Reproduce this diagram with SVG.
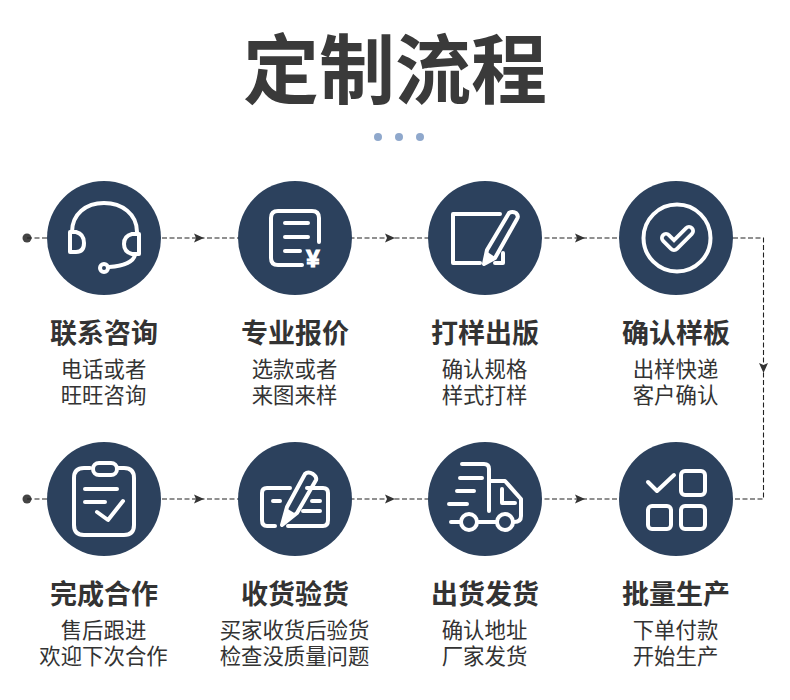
<svg xmlns="http://www.w3.org/2000/svg" width="790" height="700" viewBox="0 0 790 700">
<style>
text{font-family:"Noto Sans CJK SC","Liberation Sans",sans-serif;text-anchor:middle;fill:#333}
.t{font-size:76px;font-weight:700;fill:#3a3a3a}
.h{font-size:27px;font-weight:700}
.s{font-size:21.4px;font-weight:400}
.c{fill:#2c415d}
.i{fill:none;stroke:#fff;stroke-width:4;stroke-linecap:round;stroke-linejoin:round}
.w{fill:#fff}
.l{fill:none;stroke:#222;stroke-width:1.100;stroke-dasharray:5 2.5}
.d{fill:#444}
.b{fill:#8fa8cc}
</style>
<defs>
<path id="a" d="M-5 -4.500L5 0L-5 4.500L-3 0Z" fill="#333"/>
</defs>
<rect width="790" height="700" fill="#fff"/>
<g id="title">
<text class="t" x="395" y="98">定制流程</text>
<circle class="b" cx="378" cy="137" r="4"/><circle class="b" cx="399" cy="137" r="4"/><circle class="b" cx="420" cy="137" r="4"/>
</g>
<g id="connectors">
<circle class="d" cx="27" cy="238" r="4.500"/>
<circle class="d" cx="27" cy="499" r="4.500"/>
<path class="l" d="M27 238H733"/>
<path class="l" d="M733 238H763.500V499H733"/>
<path class="l" d="M27 499H733"/>
<use href="#a" x="199" y="238"/><use href="#a" x="390" y="238"/><use href="#a" x="580" y="238"/>
<use href="#a" x="199" y="499"/><use href="#a" x="390" y="499"/><use href="#a" x="580" y="499"/>
<use href="#a" transform="translate(763.500 368) rotate(90)"/>
</g>
<g id="n1">
<circle class="c" cx="104" cy="238" r="57"/>
<path class="i" d="M72 232C72 214 86 203 104 203C122 203 137 214 137 232"/>
<path class="i" d="M70 232H76Q84 234 84 243Q84 252 76 252H70Z"/>
<path class="i" d="M139 234H132Q124 236 124 244Q124 252 132 254H139Z"/>
<path class="i" d="M135 255C133 263 122 266 109 267"/>
<circle class="i" cx="104" cy="268" r="4"/>
<text class="h" x="104" y="343">联系咨询</text>
<text class="s"><tspan x="103.500" y="377">电话或者</tspan><tspan x="103.500" y="403">旺旺咨询</tspan></text>
</g>
<g id="n2">
<circle class="c" cx="295" cy="238" r="57"/>
<path class="i" d="M319 242V218Q319 211 312 211H278Q271 211 271 218V258Q271 265 278 265H302"/>
<path class="i" d="M285 223H308M285 237H308M285 251H300"/>
<text x="313" y="267" style="font-size:24px;font-weight:700;fill:#fff;stroke:#fff;stroke-width:1.200;font-family:'Liberation Sans',sans-serif">¥</text>
<text class="h" x="295" y="343">专业报价</text>
<text class="s"><tspan x="294.500" y="377">选款或者</tspan><tspan x="294.500" y="403">来图来样</tspan></text>
</g>
<g id="n3">
<circle class="c" cx="485" cy="238" r="57"/>
<path class="i" d="M500 214H453V263H480M503 253V263H495"/>
<path class="i" d="M484 264L487 250L509 213Q512 211 516 213Q519 216 517 219L495 258Z"/>
<path class="w" d="M483 266L486 251L495 257Z"/>
<text class="h" x="485" y="343">打样出版</text>
<text class="s"><tspan x="484.500" y="377">确认规格</tspan><tspan x="484.500" y="403">样式打样</tspan></text>
</g>
<g id="n4">
<circle class="c" cx="676" cy="238" r="57"/>
<circle class="i" cx="677" cy="238" r="33.500"/>
<path d="M666 238L674 246L689 231" fill="none" stroke="#fff" stroke-width="12" stroke-linecap="round" stroke-linejoin="round"/>
<path d="M666 238L674 246L689 231" fill="none" stroke="#2c415d" stroke-width="4.500" stroke-linecap="round" stroke-linejoin="round"/>
<text class="h" x="676" y="343">确认样板</text>
<text class="s"><tspan x="675.500" y="377">出样快递</tspan><tspan x="675.500" y="403">客户确认</tspan></text>
</g>
<g id="n5">
<circle class="c" cx="104" cy="499" r="57"/>
<path class="i" d="M90 468H84Q74 468 74 478V525Q74 535 84 535H124Q134 535 134 525V478Q134 468 124 468H118"/>
<rect class="i" x="93" y="463" width="24" height="12" rx="6"/>
<path class="i" d="M85 489H117M85 502H105"/>
<path class="i" d="M97 512L108 520L123 501"/>
<text class="h" x="104" y="604">完成合作</text>
<text class="s"><tspan x="103.500" y="638">售后跟进</tspan><tspan x="103.500" y="664">欢迎下次合作</tspan></text>
</g>
<g id="n6">
<circle class="c" cx="295" cy="499" r="57"/>
<path class="i" d="M290 488H267Q262 488 262 493V520Q262 526 267 526H275"/>
<path class="i" d="M307 488H323Q328 488 328 493V520Q328 526 323 526H288"/>
<path class="i" d="M273 501H280M312 501H320M303 511H320"/>
<path class="i" d="M282 525L287 507L305 474Q308 471 313 474Q317 477 316 480L297 513Z"/>
<path class="w" d="M281 527L286 508L296 514Z"/>
<text class="h" x="295" y="604">收货验货</text>
<text class="s"><tspan x="294.500" y="638">买家收货后验货</tspan><tspan x="294.500" y="664">检查没质量问题</tspan></text>
</g>
<g id="n7">
<circle class="c" cx="485" cy="499" r="57"/>
<path class="i" d="M462 464H484Q489 464 489 469V511"/>
<path class="i" d="M460 478H482M457 491H474M449 504H467M451 522H461M478 522H496"/>
<circle class="i" cx="469" cy="522" r="8"/>
<circle class="i" cx="505" cy="522" r="8"/>
<path class="i" d="M491 481H505L521 499V516Q521 522 514 522"/>
<path class="i" d="M502 489V503H515"/>
<text class="h" x="485" y="604">出货发货</text>
<text class="s"><tspan x="484.500" y="638">确认地址</tspan><tspan x="484.500" y="664">厂家发货</tspan></text>
</g>
<g id="n8">
<circle class="c" cx="676" cy="499" r="57"/>
<path class="i" d="M648 482L657 491L674 475"/>
<rect class="i" x="681" y="471" width="24" height="24" rx="4"/>
<rect class="i" x="648" y="506" width="23" height="23" rx="4"/>
<rect class="i" x="681" y="506" width="24" height="23" rx="4"/>
<text class="h" x="676" y="604">批量生产</text>
<text class="s"><tspan x="675.500" y="638">下单付款</tspan><tspan x="675.500" y="664">开始生产</tspan></text>
</g>
</svg>
